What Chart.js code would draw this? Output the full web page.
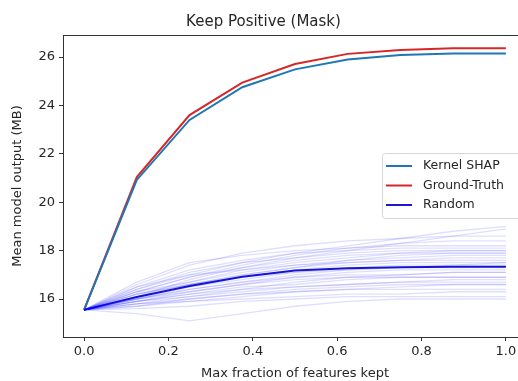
<!DOCTYPE html>
<html lang="en">
<head>
<meta charset="utf-8">
<title>Keep Positive (Mask)</title>
<script src="https://cdn.jsdelivr.net/npm/chart.js@4.4.1/dist/chart.umd.min.js"></script>
<style>
  body { margin: 0; overflow: hidden; background: #fff; }
  #wrap { width: 530px; height: 381px; }
</style>
</head>
<body>
<div id="wrap"><canvas id="myChart" width="530" height="381"></canvas></div>
<script>
// fraction of features kept
var fractions = [0, 0.125, 0.25, 0.375, 0.5, 0.625, 0.75, 0.875, 1.0];

var kernelShap  = [15.55, 20.92, 23.40, 24.75, 25.49, 25.90, 26.08, 26.15, 26.15];
var groundTruth = [15.55, 21.04, 23.60, 24.94, 25.71, 26.13, 26.29, 26.36, 26.36];
var randomMean  = [15.55, 16.08, 16.54, 16.92, 17.18, 17.27, 17.31, 17.33, 17.33];

// individual random orderings (faint lines)
var randomTrials = [
  [15.55, 16.3, 16.9, 17.4, 17.8, 18.1, 18.3, 18.4, 18.4],
  [15.55, 16.0, 16.4, 16.7, 16.9, 17.0, 17.0, 17.1, 17.1],
  [15.55, 15.8, 16.0, 16.2, 16.3, 16.4, 16.4, 16.4, 16.4],
  [15.55, 16.5, 17.2, 17.6, 17.9, 18.0, 18.1, 18.1, 18.1],
  [15.55, 15.4, 15.1, 15.4, 15.7, 15.9, 16.0, 16.0, 16.0],
  [15.55, 16.2, 16.6, 17.0, 17.3, 17.5, 17.6, 17.6, 17.6],
  [15.55, 16.1, 16.8, 17.3, 17.7, 18.0, 18.3, 18.6, 18.9],
  [15.55, 15.9, 16.2, 16.5, 16.6, 16.8, 16.9, 16.9, 16.9],
  [15.55, 16.6, 17.4, 17.9, 18.2, 18.4, 18.5, 18.6, 18.6],
  [15.55, 15.7, 15.9, 16.0, 16.1, 16.2, 16.2, 16.3, 16.3],
  [15.55, 16.3, 16.7, 17.1, 17.4, 17.6, 17.7, 17.8, 17.8],
  [15.55, 16.0, 16.5, 16.8, 17.1, 17.2, 17.3, 17.3, 17.3],
  [15.55, 16.4, 17.0, 17.5, 17.9, 18.2, 18.5, 18.8, 19.0],
  [15.55, 15.9, 16.1, 16.3, 16.5, 16.6, 16.7, 16.7, 16.7],
  [15.55, 16.2, 16.7, 17.2, 17.5, 17.7, 17.9, 18.0, 18.0],
  [15.55, 15.6, 15.7, 15.9, 16.0, 16.1, 16.1, 16.1, 16.1],
  [15.55, 16.1, 16.5, 16.9, 17.2, 17.4, 17.5, 17.5, 17.5],
  [15.55, 16.4, 17.1, 17.5, 17.7, 17.9, 18.0, 18.0, 18.0],
  [15.55, 15.8, 16.1, 16.4, 16.7, 16.9, 17.0, 17.1, 17.1],
  [15.55, 16.0, 16.3, 16.6, 16.8, 16.9, 16.9, 16.9, 16.9],
  [15.55, 16.7, 17.5, 17.8, 18.0, 18.1, 18.2, 18.2, 18.2],
  [15.55, 15.8, 15.9, 16.1, 16.3, 16.4, 16.5, 16.6, 16.6],
  [15.55, 16.2, 16.6, 16.9, 17.1, 17.3, 17.4, 17.4, 17.4],
  [15.55, 16.1, 16.6, 17.0, 17.3, 17.6, 17.8, 17.9, 17.9],
  [15.55, 15.9, 16.3, 16.6, 16.9, 17.1, 17.2, 17.2, 17.2],
  [15.55, 16.3, 16.9, 17.3, 17.6, 17.8, 17.9, 17.9, 17.9],
  [15.55, 15.7, 16.0, 16.2, 16.4, 16.5, 16.6, 16.6, 16.6],
  [15.55, 16.5, 17.0, 17.2, 17.4, 17.5, 17.6, 17.7, 17.7],
  [15.55, 16.0, 16.4, 16.7, 17.0, 17.2, 17.3, 17.4, 17.5],
  [15.55, 15.9, 16.2, 16.4, 16.5, 16.6, 16.7, 16.8, 16.8]
];

var xTicks = [0, 0.2, 0.4, 0.6, 0.8, 1.0];
var yTicks = [16, 18, 20, 22, 24, 26];

var legendNames  = ["Kernel SHAP", "Ground-Truth", "Random"];
var legendColors = ["#1f77b4", "#d62728", "#1a1acc"];

function toPoints(ys) {
  return ys.map(function (y, i) { return { x: fractions[i], y: y }; });
}

var datasets = [];
for (var t = 0; t < randomTrials.length; t++) {
  datasets.push({
    data: toPoints(randomTrials[t]),
    borderColor: "rgba(0, 0, 255, 0.13)",
    borderWidth: 1.3
  });
}
datasets.push({ data: toPoints(kernelShap),  borderColor: legendColors[0], borderWidth: 2 });
datasets.push({ data: toPoints(groundTruth), borderColor: legendColors[1], borderWidth: 2 });
datasets.push({ data: toPoints(randomMean),  borderColor: legendColors[2], borderWidth: 2 });

var textColor = "#262626";
var font = "DejaVu Sans";

// top spine + legend inside the plot
var framePlugin = {
  id: "frame",
  afterDraw: function (chart) {
    var ctx = chart.ctx, a = chart.chartArea;
    ctx.save();
    ctx.strokeStyle = "#333";
    ctx.lineWidth = 1;
    ctx.beginPath();
    ctx.moveTo(a.left, a.top + 0.5);
    ctx.lineTo(a.right, a.top + 0.5);
    ctx.stroke();

    // legend
    var bx = 382, by = 153, bw = 146, bh = 65;
    ctx.fillStyle = "rgba(255,255,255,0.85)";
    ctx.strokeStyle = "#d6d6d6";
    ctx.beginPath();
    ctx.roundRect(bx + 0.5, by + 0.5, bw, bh, 3);
    ctx.fill();
    ctx.stroke();
    ctx.font = "12.5px " + font;
    ctx.textBaseline = "middle";
    for (var i = 0; i < legendNames.length; i++) {
      var y = by + 13 + i * 19.5;
      ctx.strokeStyle = legendColors[i];
      ctx.lineWidth = 2;
      ctx.beginPath();
      ctx.moveTo(386, y);
      ctx.lineTo(412, y);
      ctx.stroke();
      ctx.fillStyle = textColor;
      ctx.fillText(legendNames[i], 423, y);
    }
    ctx.restore();
  }
};

var ctx = document.getElementById("myChart");
var myChart = new Chart(ctx, {
  type: "line",
  data: { datasets: datasets },
  options: {
    responsive: false,
    animation: false,
    layout: { padding: { left: 0, right: 3, top: 0, bottom: 0 } },
    elements: { point: { radius: 0 }, line: { tension: 0 } },
    plugins: {
      legend: { display: false },
      tooltip: { enabled: false },
      title: {
        display: true,
        text: "Keep Positive (Mask)",
        color: textColor,
        font: { family: font, size: 15, weight: "normal" },
        padding: { top: 13, bottom: 4 }
      }
    },
    scales: {
      x: {
        type: "linear",
        min: -0.05,
        max: 1.05,
        afterBuildTicks: function (scale) {
          scale.ticks = xTicks.map(function (v) { return { value: v }; });
        },
        afterFit: function (scale) { scale.height = 44; },
        grid: { drawOnChartArea: false, tickLength: 4, color: "#333" },
        border: { color: "#333" },
        ticks: {
          color: textColor,
          font: { family: font, size: 13 },
          padding: 3,
          maxRotation: 0,
          callback: function (v) { return v.toFixed(1); }
        },
        title: {
          display: true,
          text: "Max fraction of features kept",
          color: textColor,
          font: { family: font, size: 13 },
          padding: { top: 0, bottom: 0 }
        }
      },
      y: {
        type: "linear",
        min: 14.43,
        max: 26.91,
        afterBuildTicks: function (scale) {
          scale.ticks = yTicks.map(function (v) { return { value: v }; });
        },
        afterFit: function (scale) { scale.width = 63; },
        grid: { drawOnChartArea: false, tickLength: 4, color: "#333" },
        border: { color: "#333" },
        ticks: {
          color: textColor,
          font: { family: font, size: 13 },
          padding: 4
        },
        title: {
          display: true,
          text: "Mean model output (MB)",
          color: textColor,
          font: { family: font, size: 13 },
          padding: { top: 10, bottom: 0 }
        }
      }
    }
  },
  plugins: [framePlugin]
});
</script>
</body>
</html>
